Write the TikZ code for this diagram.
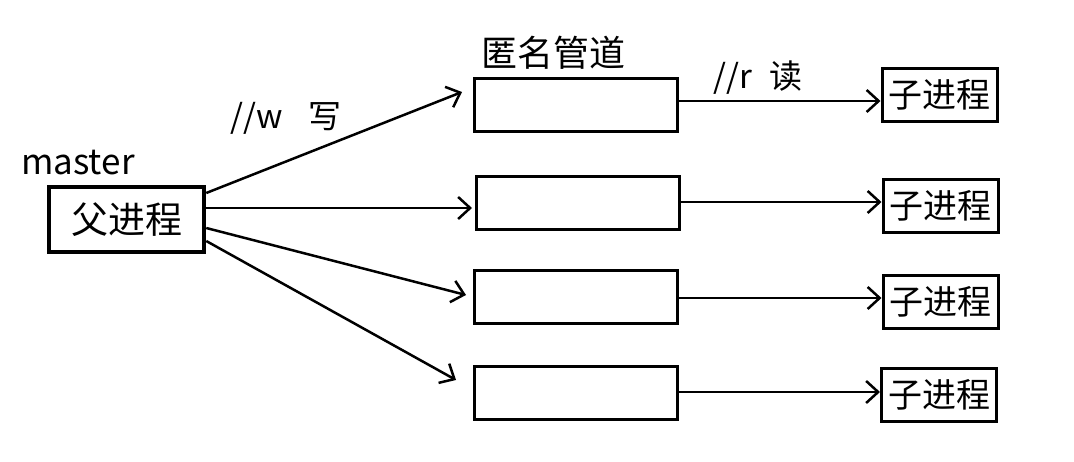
\documentclass[tikz,border=0pt]{standalone}
\usepackage{fontspec}
\setmainfont{Noto Sans CJK SC}
\usetikzlibrary{arrows.meta}
\begin{document}
\begin{tikzpicture}[x=1pt,y=-1pt,
  pbox/.style={draw,line width=4.5pt,minimum width=155pt,minimum height=65pt,inner sep=0pt,font=\fontsize{37}{37}\selectfont},
  pipe/.style={draw,line width=3pt,minimum width=203pt,minimum height=53pt,inner sep=0pt},
  child/.style={draw,line width=3pt,minimum width=115pt,minimum height=53pt,inner sep=0pt,font=\fontsize{34}{34}\selectfont},
  lbl/.style={inner sep=0pt,font=\fontsize{33}{33}\selectfont},
  arr/.style={line width=2.5pt,-{Straight Barb[length=12pt,width=22pt,line width=2.5pt]}}]
\useasboundingbox (0,0) rectangle (1074,461);
\node[pbox] (parent) at (126.5,219.5) {父进程};
\node[lbl,anchor=base west,font=\fontsize{35}{35}\selectfont] (master) at (21,174) {master};
\node[pipe] (p1) at (575.5,104.5) {};
\node[pipe] (p2) at (578,202.5) {};
\node[pipe] (p3) at (576,296.5) {};
\node[pipe] (p4) at (575.5,392.5) {};
\node[lbl,font=\fontsize{36}{36}\selectfont] (anon) at (553,53) {匿名管道};
\node[child] (c1) at (939.5,95) {子进程};
\node[child] (c2) at (940.5,205.5) {子进程};
\node[child] (c3) at (940.5,302) {子进程};
\node[child] (c4) at (939,394.5) {子进程};
\node[lbl] (w) at (286,118) {//w\hspace{26pt}写};
\node[lbl] (r) at (758,78) {//r\hspace{18pt}读};
\coordinate (e1) at (462,92);
\coordinate (e2) at (472,208);
\coordinate (e3) at (466,295);
\coordinate (e4) at (456,380);
\draw[arr] (parent.east |- 0,193) -- (e1);
\draw[arr] (parent.east |- 0,208) -- (e2);
\draw[arr] (parent.east |- 0,228) -- (e3);
\draw[arr] (parent.east |- 0,241) -- (e4);
\draw[arr] (p1.east |- 0,101) -- (c1.west |- 0,101);
\draw[arr] (p2.east |- 0,202) -- (c2.west |- 0,202);
\draw[arr] (p3.east |- 0,298) -- (c3.west |- 0,298);
\draw[arr] (p4.east |- 0,392) -- (c4.west |- 0,392);
\end{tikzpicture}
\end{document}
